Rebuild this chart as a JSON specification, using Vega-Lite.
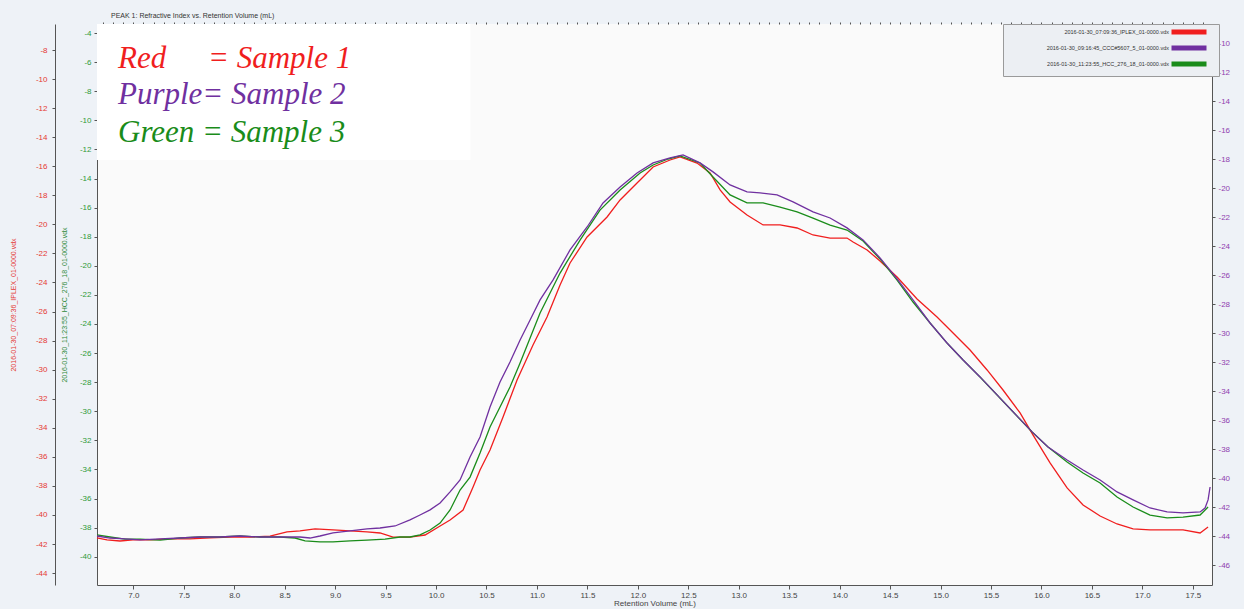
{
  "$schema": "https://vega.github.io/schema/vega-lite/v6.json",
  "width": 1115,
  "height": 561,
  "autosize": {"type": "none"},
  "padding": {"left": 97, "top": 24, "right": 32, "bottom": 24},
  "background": "#eef2f7",
  "title": {
    "text": "PEAK 1: Refractive Index vs. Retention Volume (mL)",
    "anchor": "start",
    "frame": "group",
    "dx": 14,
    "offset": 3,
    "fontSize": 7,
    "fontWeight": "normal",
    "font": "Liberation Sans",
    "color": "#333333"
  },
  "config": {
    "view": {"stroke": null, "fill": "#fafafa"},
    "axis": {
      "labelFont": "Liberation Sans",
      "titleFont": "Liberation Sans",
      "labelFontSize": 8,
      "titleFontSize": 8,
      "titleFontWeight": "normal",
      "grid": false,
      "domainColor": "#555555",
      "tickColor": "#555555",
      "tickSize": 3,
      "labelPadding": 3,
      "labelOverlap": false
    }
  },
  "datasets": {
    "curves": [
      {"run": "2016-01-30_07:09:36_IPLEX_01-0000.vdx", "volume": 6.640, "ri": -41.58},
      {"run": "2016-01-30_07:09:36_IPLEX_01-0000.vdx", "volume": 6.739, "ri": -41.72},
      {"run": "2016-01-30_07:09:36_IPLEX_01-0000.vdx", "volume": 6.868, "ri": -41.79},
      {"run": "2016-01-30_07:09:36_IPLEX_01-0000.vdx", "volume": 6.997, "ri": -41.72},
      {"run": "2016-01-30_07:09:36_IPLEX_01-0000.vdx", "volume": 7.166, "ri": -41.72},
      {"run": "2016-01-30_07:09:36_IPLEX_01-0000.vdx", "volume": 7.364, "ri": -41.65},
      {"run": "2016-01-30_07:09:36_IPLEX_01-0000.vdx", "volume": 7.562, "ri": -41.65},
      {"run": "2016-01-30_07:09:36_IPLEX_01-0000.vdx", "volume": 7.760, "ri": -41.58},
      {"run": "2016-01-30_07:09:36_IPLEX_01-0000.vdx", "volume": 7.958, "ri": -41.52},
      {"run": "2016-01-30_07:09:36_IPLEX_01-0000.vdx", "volume": 8.157, "ri": -41.52},
      {"run": "2016-01-30_07:09:36_IPLEX_01-0000.vdx", "volume": 8.355, "ri": -41.45},
      {"run": "2016-01-30_07:09:36_IPLEX_01-0000.vdx", "volume": 8.523, "ri": -41.17},
      {"run": "2016-01-30_07:09:36_IPLEX_01-0000.vdx", "volume": 8.652, "ri": -41.10},
      {"run": "2016-01-30_07:09:36_IPLEX_01-0000.vdx", "volume": 8.801, "ri": -40.96},
      {"run": "2016-01-30_07:09:36_IPLEX_01-0000.vdx", "volume": 8.979, "ri": -41.03},
      {"run": "2016-01-30_07:09:36_IPLEX_01-0000.vdx", "volume": 9.148, "ri": -41.10},
      {"run": "2016-01-30_07:09:36_IPLEX_01-0000.vdx", "volume": 9.316, "ri": -41.17},
      {"run": "2016-01-30_07:09:36_IPLEX_01-0000.vdx", "volume": 9.445, "ri": -41.24},
      {"run": "2016-01-30_07:09:36_IPLEX_01-0000.vdx", "volume": 9.574, "ri": -41.52},
      {"run": "2016-01-30_07:09:36_IPLEX_01-0000.vdx", "volume": 9.742, "ri": -41.52},
      {"run": "2016-01-30_07:09:36_IPLEX_01-0000.vdx", "volume": 9.891, "ri": -41.38},
      {"run": "2016-01-30_07:09:36_IPLEX_01-0000.vdx", "volume": 10.040, "ri": -40.76},
      {"run": "2016-01-30_07:09:36_IPLEX_01-0000.vdx", "volume": 10.139, "ri": -40.35},
      {"run": "2016-01-30_07:09:36_IPLEX_01-0000.vdx", "volume": 10.268, "ri": -39.66},
      {"run": "2016-01-30_07:09:36_IPLEX_01-0000.vdx", "volume": 10.367, "ri": -38.07},
      {"run": "2016-01-30_07:09:36_IPLEX_01-0000.vdx", "volume": 10.436, "ri": -36.90},
      {"run": "2016-01-30_07:09:36_IPLEX_01-0000.vdx", "volume": 10.535, "ri": -35.53},
      {"run": "2016-01-30_07:09:36_IPLEX_01-0000.vdx", "volume": 10.664, "ri": -33.26},
      {"run": "2016-01-30_07:09:36_IPLEX_01-0000.vdx", "volume": 10.803, "ri": -30.71},
      {"run": "2016-01-30_07:09:36_IPLEX_01-0000.vdx", "volume": 10.961, "ri": -28.30},
      {"run": "2016-01-30_07:09:36_IPLEX_01-0000.vdx", "volume": 11.100, "ri": -26.37},
      {"run": "2016-01-30_07:09:36_IPLEX_01-0000.vdx", "volume": 11.229, "ri": -24.17},
      {"run": "2016-01-30_07:09:36_IPLEX_01-0000.vdx", "volume": 11.328, "ri": -22.66},
      {"run": "2016-01-30_07:09:36_IPLEX_01-0000.vdx", "volume": 11.497, "ri": -20.87},
      {"run": "2016-01-30_07:09:36_IPLEX_01-0000.vdx", "volume": 11.695, "ri": -19.49},
      {"run": "2016-01-30_07:09:36_IPLEX_01-0000.vdx", "volume": 11.824, "ri": -18.32},
      {"run": "2016-01-30_07:09:36_IPLEX_01-0000.vdx", "volume": 11.992, "ri": -17.15},
      {"run": "2016-01-30_07:09:36_IPLEX_01-0000.vdx", "volume": 12.151, "ri": -16.05},
      {"run": "2016-01-30_07:09:36_IPLEX_01-0000.vdx", "volume": 12.319, "ri": -15.57},
      {"run": "2016-01-30_07:09:36_IPLEX_01-0000.vdx", "volume": 12.418, "ri": -15.36},
      {"run": "2016-01-30_07:09:36_IPLEX_01-0000.vdx", "volume": 12.587, "ri": -15.78},
      {"run": "2016-01-30_07:09:36_IPLEX_01-0000.vdx", "volume": 12.716, "ri": -16.46},
      {"run": "2016-01-30_07:09:36_IPLEX_01-0000.vdx", "volume": 12.815, "ri": -17.63},
      {"run": "2016-01-30_07:09:36_IPLEX_01-0000.vdx", "volume": 12.914, "ri": -18.46},
      {"run": "2016-01-30_07:09:36_IPLEX_01-0000.vdx", "volume": 13.082, "ri": -19.36},
      {"run": "2016-01-30_07:09:36_IPLEX_01-0000.vdx", "volume": 13.241, "ri": -20.04},
      {"run": "2016-01-30_07:09:36_IPLEX_01-0000.vdx", "volume": 13.409, "ri": -20.04},
      {"run": "2016-01-30_07:09:36_IPLEX_01-0000.vdx", "volume": 13.578, "ri": -20.25},
      {"run": "2016-01-30_07:09:36_IPLEX_01-0000.vdx", "volume": 13.736, "ri": -20.73},
      {"run": "2016-01-30_07:09:36_IPLEX_01-0000.vdx", "volume": 13.905, "ri": -20.94},
      {"run": "2016-01-30_07:09:36_IPLEX_01-0000.vdx", "volume": 14.073, "ri": -20.94},
      {"run": "2016-01-30_07:09:36_IPLEX_01-0000.vdx", "volume": 14.133, "ri": -21.21},
      {"run": "2016-01-30_07:09:36_IPLEX_01-0000.vdx", "volume": 14.272, "ri": -21.76},
      {"run": "2016-01-30_07:09:36_IPLEX_01-0000.vdx", "volume": 14.400, "ri": -22.52},
      {"run": "2016-01-30_07:09:36_IPLEX_01-0000.vdx", "volume": 14.569, "ri": -23.62},
      {"run": "2016-01-30_07:09:36_IPLEX_01-0000.vdx", "volume": 14.767, "ri": -25.14},
      {"run": "2016-01-30_07:09:36_IPLEX_01-0000.vdx", "volume": 14.965, "ri": -26.37},
      {"run": "2016-01-30_07:09:36_IPLEX_01-0000.vdx", "volume": 15.124, "ri": -27.48},
      {"run": "2016-01-30_07:09:36_IPLEX_01-0000.vdx", "volume": 15.292, "ri": -28.65},
      {"run": "2016-01-30_07:09:36_IPLEX_01-0000.vdx", "volume": 15.461, "ri": -30.02},
      {"run": "2016-01-30_07:09:36_IPLEX_01-0000.vdx", "volume": 15.619, "ri": -31.40},
      {"run": "2016-01-30_07:09:36_IPLEX_01-0000.vdx", "volume": 15.788, "ri": -32.98},
      {"run": "2016-01-30_07:09:36_IPLEX_01-0000.vdx", "volume": 15.917, "ri": -34.50},
      {"run": "2016-01-30_07:09:36_IPLEX_01-0000.vdx", "volume": 16.085, "ri": -36.42},
      {"run": "2016-01-30_07:09:36_IPLEX_01-0000.vdx", "volume": 16.254, "ri": -38.14},
      {"run": "2016-01-30_07:09:36_IPLEX_01-0000.vdx", "volume": 16.412, "ri": -39.31},
      {"run": "2016-01-30_07:09:36_IPLEX_01-0000.vdx", "volume": 16.581, "ri": -40.07},
      {"run": "2016-01-30_07:09:36_IPLEX_01-0000.vdx", "volume": 16.749, "ri": -40.62},
      {"run": "2016-01-30_07:09:36_IPLEX_01-0000.vdx", "volume": 16.908, "ri": -40.96},
      {"run": "2016-01-30_07:09:36_IPLEX_01-0000.vdx", "volume": 17.076, "ri": -41.03},
      {"run": "2016-01-30_07:09:36_IPLEX_01-0000.vdx", "volume": 17.245, "ri": -41.03},
      {"run": "2016-01-30_07:09:36_IPLEX_01-0000.vdx", "volume": 17.403, "ri": -41.03},
      {"run": "2016-01-30_07:09:36_IPLEX_01-0000.vdx", "volume": 17.572, "ri": -41.24},
      {"run": "2016-01-30_07:09:36_IPLEX_01-0000.vdx", "volume": 17.651, "ri": -40.83},

      {"run": "2016-01-30_09:16:45_CCC#5607_5_01-0000.vdx", "volume": 6.640, "ri": -43.97},
      {"run": "2016-01-30_09:16:45_CCC#5607_5_01-0000.vdx", "volume": 6.769, "ri": -44.11},
      {"run": "2016-01-30_09:16:45_CCC#5607_5_01-0000.vdx", "volume": 6.918, "ri": -44.17},
      {"run": "2016-01-30_09:16:45_CCC#5607_5_01-0000.vdx", "volume": 7.066, "ri": -44.24},
      {"run": "2016-01-30_09:16:45_CCC#5607_5_01-0000.vdx", "volume": 7.265, "ri": -44.17},
      {"run": "2016-01-30_09:16:45_CCC#5607_5_01-0000.vdx", "volume": 7.463, "ri": -44.11},
      {"run": "2016-01-30_09:16:45_CCC#5607_5_01-0000.vdx", "volume": 7.661, "ri": -44.04},
      {"run": "2016-01-30_09:16:45_CCC#5607_5_01-0000.vdx", "volume": 7.859, "ri": -44.04},
      {"run": "2016-01-30_09:16:45_CCC#5607_5_01-0000.vdx", "volume": 8.057, "ri": -43.97},
      {"run": "2016-01-30_09:16:45_CCC#5607_5_01-0000.vdx", "volume": 8.256, "ri": -44.04},
      {"run": "2016-01-30_09:16:45_CCC#5607_5_01-0000.vdx", "volume": 8.454, "ri": -44.04},
      {"run": "2016-01-30_09:16:45_CCC#5607_5_01-0000.vdx", "volume": 8.652, "ri": -44.04},
      {"run": "2016-01-30_09:16:45_CCC#5607_5_01-0000.vdx", "volume": 8.751, "ri": -44.11},
      {"run": "2016-01-30_09:16:45_CCC#5607_5_01-0000.vdx", "volume": 8.850, "ri": -43.97},
      {"run": "2016-01-30_09:16:45_CCC#5607_5_01-0000.vdx", "volume": 8.979, "ri": -43.76},
      {"run": "2016-01-30_09:16:45_CCC#5607_5_01-0000.vdx", "volume": 9.148, "ri": -43.62},
      {"run": "2016-01-30_09:16:45_CCC#5607_5_01-0000.vdx", "volume": 9.316, "ri": -43.48},
      {"run": "2016-01-30_09:16:45_CCC#5607_5_01-0000.vdx", "volume": 9.445, "ri": -43.42},
      {"run": "2016-01-30_09:16:45_CCC#5607_5_01-0000.vdx", "volume": 9.594, "ri": -43.28},
      {"run": "2016-01-30_09:16:45_CCC#5607_5_01-0000.vdx", "volume": 9.742, "ri": -42.86},
      {"run": "2016-01-30_09:16:45_CCC#5607_5_01-0000.vdx", "volume": 9.841, "ri": -42.52},
      {"run": "2016-01-30_09:16:45_CCC#5607_5_01-0000.vdx", "volume": 9.941, "ri": -42.17},
      {"run": "2016-01-30_09:16:45_CCC#5607_5_01-0000.vdx", "volume": 10.040, "ri": -41.69},
      {"run": "2016-01-30_09:16:45_CCC#5607_5_01-0000.vdx", "volume": 10.139, "ri": -40.93},
      {"run": "2016-01-30_09:16:45_CCC#5607_5_01-0000.vdx", "volume": 10.238, "ri": -40.11},
      {"run": "2016-01-30_09:16:45_CCC#5607_5_01-0000.vdx", "volume": 10.337, "ri": -38.52},
      {"run": "2016-01-30_09:16:45_CCC#5607_5_01-0000.vdx", "volume": 10.436, "ri": -37.14},
      {"run": "2016-01-30_09:16:45_CCC#5607_5_01-0000.vdx", "volume": 10.535, "ri": -35.07},
      {"run": "2016-01-30_09:16:45_CCC#5607_5_01-0000.vdx", "volume": 10.634, "ri": -33.35},
      {"run": "2016-01-30_09:16:45_CCC#5607_5_01-0000.vdx", "volume": 10.733, "ri": -31.97},
      {"run": "2016-01-30_09:16:45_CCC#5607_5_01-0000.vdx", "volume": 10.833, "ri": -30.45},
      {"run": "2016-01-30_09:16:45_CCC#5607_5_01-0000.vdx", "volume": 10.932, "ri": -29.07},
      {"run": "2016-01-30_09:16:45_CCC#5607_5_01-0000.vdx", "volume": 11.031, "ri": -27.69},
      {"run": "2016-01-30_09:16:45_CCC#5607_5_01-0000.vdx", "volume": 11.160, "ri": -26.31},
      {"run": "2016-01-30_09:16:45_CCC#5607_5_01-0000.vdx", "volume": 11.328, "ri": -24.24},
      {"run": "2016-01-30_09:16:45_CCC#5607_5_01-0000.vdx", "volume": 11.497, "ri": -22.66},
      {"run": "2016-01-30_09:16:45_CCC#5607_5_01-0000.vdx", "volume": 11.655, "ri": -21.00},
      {"run": "2016-01-30_09:16:45_CCC#5607_5_01-0000.vdx", "volume": 11.824, "ri": -19.90},
      {"run": "2016-01-30_09:16:45_CCC#5607_5_01-0000.vdx", "volume": 11.992, "ri": -18.93},
      {"run": "2016-01-30_09:16:45_CCC#5607_5_01-0000.vdx", "volume": 12.151, "ri": -18.24},
      {"run": "2016-01-30_09:16:45_CCC#5607_5_01-0000.vdx", "volume": 12.319, "ri": -17.90},
      {"run": "2016-01-30_09:16:45_CCC#5607_5_01-0000.vdx", "volume": 12.448, "ri": -17.69},
      {"run": "2016-01-30_09:16:45_CCC#5607_5_01-0000.vdx", "volume": 12.616, "ri": -18.24},
      {"run": "2016-01-30_09:16:45_CCC#5607_5_01-0000.vdx", "volume": 12.745, "ri": -18.86},
      {"run": "2016-01-30_09:16:45_CCC#5607_5_01-0000.vdx", "volume": 12.914, "ri": -19.76},
      {"run": "2016-01-30_09:16:45_CCC#5607_5_01-0000.vdx", "volume": 13.082, "ri": -20.24},
      {"run": "2016-01-30_09:16:45_CCC#5607_5_01-0000.vdx", "volume": 13.211, "ri": -20.31},
      {"run": "2016-01-30_09:16:45_CCC#5607_5_01-0000.vdx", "volume": 13.380, "ri": -20.45},
      {"run": "2016-01-30_09:16:45_CCC#5607_5_01-0000.vdx", "volume": 13.538, "ri": -20.93},
      {"run": "2016-01-30_09:16:45_CCC#5607_5_01-0000.vdx", "volume": 13.736, "ri": -21.62},
      {"run": "2016-01-30_09:16:45_CCC#5607_5_01-0000.vdx", "volume": 13.905, "ri": -22.04},
      {"run": "2016-01-30_09:16:45_CCC#5607_5_01-0000.vdx", "volume": 14.073, "ri": -22.72},
      {"run": "2016-01-30_09:16:45_CCC#5607_5_01-0000.vdx", "volume": 14.232, "ri": -23.55},
      {"run": "2016-01-30_09:16:45_CCC#5607_5_01-0000.vdx", "volume": 14.400, "ri": -24.79},
      {"run": "2016-01-30_09:16:45_CCC#5607_5_01-0000.vdx", "volume": 14.569, "ri": -26.24},
      {"run": "2016-01-30_09:16:45_CCC#5607_5_01-0000.vdx", "volume": 14.727, "ri": -27.69},
      {"run": "2016-01-30_09:16:45_CCC#5607_5_01-0000.vdx", "volume": 14.896, "ri": -29.28},
      {"run": "2016-01-30_09:16:45_CCC#5607_5_01-0000.vdx", "volume": 15.064, "ri": -30.66},
      {"run": "2016-01-30_09:16:45_CCC#5607_5_01-0000.vdx", "volume": 15.223, "ri": -31.83},
      {"run": "2016-01-30_09:16:45_CCC#5607_5_01-0000.vdx", "volume": 15.391, "ri": -33.00},
      {"run": "2016-01-30_09:16:45_CCC#5607_5_01-0000.vdx", "volume": 15.560, "ri": -34.24},
      {"run": "2016-01-30_09:16:45_CCC#5607_5_01-0000.vdx", "volume": 15.738, "ri": -35.55},
      {"run": "2016-01-30_09:16:45_CCC#5607_5_01-0000.vdx", "volume": 15.907, "ri": -36.79},
      {"run": "2016-01-30_09:16:45_CCC#5607_5_01-0000.vdx", "volume": 16.065, "ri": -37.83},
      {"run": "2016-01-30_09:16:45_CCC#5607_5_01-0000.vdx", "volume": 16.254, "ri": -38.73},
      {"run": "2016-01-30_09:16:45_CCC#5607_5_01-0000.vdx", "volume": 16.412, "ri": -39.42},
      {"run": "2016-01-30_09:16:45_CCC#5607_5_01-0000.vdx", "volume": 16.581, "ri": -40.11},
      {"run": "2016-01-30_09:16:45_CCC#5607_5_01-0000.vdx", "volume": 16.749, "ri": -40.93},
      {"run": "2016-01-30_09:16:45_CCC#5607_5_01-0000.vdx", "volume": 16.908, "ri": -41.48},
      {"run": "2016-01-30_09:16:45_CCC#5607_5_01-0000.vdx", "volume": 17.076, "ri": -42.04},
      {"run": "2016-01-30_09:16:45_CCC#5607_5_01-0000.vdx", "volume": 17.245, "ri": -42.31},
      {"run": "2016-01-30_09:16:45_CCC#5607_5_01-0000.vdx", "volume": 17.403, "ri": -42.38},
      {"run": "2016-01-30_09:16:45_CCC#5607_5_01-0000.vdx", "volume": 17.572, "ri": -42.31},
      {"run": "2016-01-30_09:16:45_CCC#5607_5_01-0000.vdx", "volume": 17.621, "ri": -42.04},
      {"run": "2016-01-30_09:16:45_CCC#5607_5_01-0000.vdx", "volume": 17.651, "ri": -41.48},
      {"run": "2016-01-30_09:16:45_CCC#5607_5_01-0000.vdx", "volume": 17.671, "ri": -40.59},

      {"run": "2016-01-30_11:23:55_HCC_276_18_01-0000.vdx", "volume": 6.640, "ri": -38.50},
      {"run": "2016-01-30_11:23:55_HCC_276_18_01-0000.vdx", "volume": 6.769, "ri": -38.64},
      {"run": "2016-01-30_11:23:55_HCC_276_18_01-0000.vdx", "volume": 6.918, "ri": -38.78},
      {"run": "2016-01-30_11:23:55_HCC_276_18_01-0000.vdx", "volume": 7.066, "ri": -38.78},
      {"run": "2016-01-30_11:23:55_HCC_276_18_01-0000.vdx", "volume": 7.265, "ri": -38.85},
      {"run": "2016-01-30_11:23:55_HCC_276_18_01-0000.vdx", "volume": 7.463, "ri": -38.71},
      {"run": "2016-01-30_11:23:55_HCC_276_18_01-0000.vdx", "volume": 7.661, "ri": -38.64},
      {"run": "2016-01-30_11:23:55_HCC_276_18_01-0000.vdx", "volume": 7.859, "ri": -38.64},
      {"run": "2016-01-30_11:23:55_HCC_276_18_01-0000.vdx", "volume": 8.057, "ri": -38.57},
      {"run": "2016-01-30_11:23:55_HCC_276_18_01-0000.vdx", "volume": 8.256, "ri": -38.64},
      {"run": "2016-01-30_11:23:55_HCC_276_18_01-0000.vdx", "volume": 8.454, "ri": -38.64},
      {"run": "2016-01-30_11:23:55_HCC_276_18_01-0000.vdx", "volume": 8.603, "ri": -38.71},
      {"run": "2016-01-30_11:23:55_HCC_276_18_01-0000.vdx", "volume": 8.702, "ri": -38.91},
      {"run": "2016-01-30_11:23:55_HCC_276_18_01-0000.vdx", "volume": 8.850, "ri": -38.98},
      {"run": "2016-01-30_11:23:55_HCC_276_18_01-0000.vdx", "volume": 8.979, "ri": -38.98},
      {"run": "2016-01-30_11:23:55_HCC_276_18_01-0000.vdx", "volume": 9.148, "ri": -38.91},
      {"run": "2016-01-30_11:23:55_HCC_276_18_01-0000.vdx", "volume": 9.316, "ri": -38.85},
      {"run": "2016-01-30_11:23:55_HCC_276_18_01-0000.vdx", "volume": 9.495, "ri": -38.78},
      {"run": "2016-01-30_11:23:55_HCC_276_18_01-0000.vdx", "volume": 9.643, "ri": -38.64},
      {"run": "2016-01-30_11:23:55_HCC_276_18_01-0000.vdx", "volume": 9.742, "ri": -38.64},
      {"run": "2016-01-30_11:23:55_HCC_276_18_01-0000.vdx", "volume": 9.841, "ri": -38.50},
      {"run": "2016-01-30_11:23:55_HCC_276_18_01-0000.vdx", "volume": 9.941, "ri": -38.16},
      {"run": "2016-01-30_11:23:55_HCC_276_18_01-0000.vdx", "volume": 10.040, "ri": -37.68},
      {"run": "2016-01-30_11:23:55_HCC_276_18_01-0000.vdx", "volume": 10.139, "ri": -36.78},
      {"run": "2016-01-30_11:23:55_HCC_276_18_01-0000.vdx", "volume": 10.238, "ri": -35.41},
      {"run": "2016-01-30_11:23:55_HCC_276_18_01-0000.vdx", "volume": 10.337, "ri": -34.52},
      {"run": "2016-01-30_11:23:55_HCC_276_18_01-0000.vdx", "volume": 10.436, "ri": -32.87},
      {"run": "2016-01-30_11:23:55_HCC_276_18_01-0000.vdx", "volume": 10.535, "ri": -31.08},
      {"run": "2016-01-30_11:23:55_HCC_276_18_01-0000.vdx", "volume": 10.634, "ri": -29.71},
      {"run": "2016-01-30_11:23:55_HCC_276_18_01-0000.vdx", "volume": 10.733, "ri": -28.33},
      {"run": "2016-01-30_11:23:55_HCC_276_18_01-0000.vdx", "volume": 10.833, "ri": -26.68},
      {"run": "2016-01-30_11:23:55_HCC_276_18_01-0000.vdx", "volume": 11.031, "ri": -23.24},
      {"run": "2016-01-30_11:23:55_HCC_276_18_01-0000.vdx", "volume": 11.229, "ri": -20.50},
      {"run": "2016-01-30_11:23:55_HCC_276_18_01-0000.vdx", "volume": 11.427, "ri": -18.23},
      {"run": "2016-01-30_11:23:55_HCC_276_18_01-0000.vdx", "volume": 11.625, "ri": -16.17},
      {"run": "2016-01-30_11:23:55_HCC_276_18_01-0000.vdx", "volume": 11.824, "ri": -14.79},
      {"run": "2016-01-30_11:23:55_HCC_276_18_01-0000.vdx", "volume": 12.022, "ri": -13.62},
      {"run": "2016-01-30_11:23:55_HCC_276_18_01-0000.vdx", "volume": 12.151, "ri": -13.07},
      {"run": "2016-01-30_11:23:55_HCC_276_18_01-0000.vdx", "volume": 12.299, "ri": -12.66},
      {"run": "2016-01-30_11:23:55_HCC_276_18_01-0000.vdx", "volume": 12.418, "ri": -12.45},
      {"run": "2016-01-30_11:23:55_HCC_276_18_01-0000.vdx", "volume": 12.616, "ri": -12.93},
      {"run": "2016-01-30_11:23:55_HCC_276_18_01-0000.vdx", "volume": 12.745, "ri": -13.90},
      {"run": "2016-01-30_11:23:55_HCC_276_18_01-0000.vdx", "volume": 12.914, "ri": -15.13},
      {"run": "2016-01-30_11:23:55_HCC_276_18_01-0000.vdx", "volume": 13.082, "ri": -15.68},
      {"run": "2016-01-30_11:23:55_HCC_276_18_01-0000.vdx", "volume": 13.241, "ri": -15.68},
      {"run": "2016-01-30_11:23:55_HCC_276_18_01-0000.vdx", "volume": 13.409, "ri": -15.96},
      {"run": "2016-01-30_11:23:55_HCC_276_18_01-0000.vdx", "volume": 13.578, "ri": -16.30},
      {"run": "2016-01-30_11:23:55_HCC_276_18_01-0000.vdx", "volume": 13.736, "ri": -16.72},
      {"run": "2016-01-30_11:23:55_HCC_276_18_01-0000.vdx", "volume": 13.905, "ri": -17.20},
      {"run": "2016-01-30_11:23:55_HCC_276_18_01-0000.vdx", "volume": 14.073, "ri": -17.54},
      {"run": "2016-01-30_11:23:55_HCC_276_18_01-0000.vdx", "volume": 14.232, "ri": -18.30},
      {"run": "2016-01-30_11:23:55_HCC_276_18_01-0000.vdx", "volume": 14.400, "ri": -19.53},
      {"run": "2016-01-30_11:23:55_HCC_276_18_01-0000.vdx", "volume": 14.569, "ri": -20.98},
      {"run": "2016-01-30_11:23:55_HCC_276_18_01-0000.vdx", "volume": 14.727, "ri": -22.49},
      {"run": "2016-01-30_11:23:55_HCC_276_18_01-0000.vdx", "volume": 14.896, "ri": -23.93},
      {"run": "2016-01-30_11:23:55_HCC_276_18_01-0000.vdx", "volume": 15.064, "ri": -25.31},
      {"run": "2016-01-30_11:23:55_HCC_276_18_01-0000.vdx", "volume": 15.223, "ri": -26.47},
      {"run": "2016-01-30_11:23:55_HCC_276_18_01-0000.vdx", "volume": 15.391, "ri": -27.64},
      {"run": "2016-01-30_11:23:55_HCC_276_18_01-0000.vdx", "volume": 15.560, "ri": -28.88},
      {"run": "2016-01-30_11:23:55_HCC_276_18_01-0000.vdx", "volume": 15.738, "ri": -30.19},
      {"run": "2016-01-30_11:23:55_HCC_276_18_01-0000.vdx", "volume": 15.907, "ri": -31.42},
      {"run": "2016-01-30_11:23:55_HCC_276_18_01-0000.vdx", "volume": 16.065, "ri": -32.45},
      {"run": "2016-01-30_11:23:55_HCC_276_18_01-0000.vdx", "volume": 16.254, "ri": -33.48},
      {"run": "2016-01-30_11:23:55_HCC_276_18_01-0000.vdx", "volume": 16.412, "ri": -34.24},
      {"run": "2016-01-30_11:23:55_HCC_276_18_01-0000.vdx", "volume": 16.581, "ri": -34.93},
      {"run": "2016-01-30_11:23:55_HCC_276_18_01-0000.vdx", "volume": 16.749, "ri": -35.89},
      {"run": "2016-01-30_11:23:55_HCC_276_18_01-0000.vdx", "volume": 16.908, "ri": -36.58},
      {"run": "2016-01-30_11:23:55_HCC_276_18_01-0000.vdx", "volume": 17.076, "ri": -37.13},
      {"run": "2016-01-30_11:23:55_HCC_276_18_01-0000.vdx", "volume": 17.245, "ri": -37.33},
      {"run": "2016-01-30_11:23:55_HCC_276_18_01-0000.vdx", "volume": 17.403, "ri": -37.27},
      {"run": "2016-01-30_11:23:55_HCC_276_18_01-0000.vdx", "volume": 17.572, "ri": -37.13},
      {"run": "2016-01-30_11:23:55_HCC_276_18_01-0000.vdx", "volume": 17.651, "ri": -36.58}
    ],
    "notes": [
      {"run": "2016-01-30_07:09:36_IPLEX_01-0000.vdx", "label": "Red", "x": 6.848, "y": -6.41},
      {"run": "2016-01-30_07:09:36_IPLEX_01-0000.vdx", "label": "= Sample 1", "x": 7.740, "y": -6.41},
      {"run": "2016-01-30_09:16:45_CCC#5607_5_01-0000.vdx", "label": "Purple= Sample 2", "x": 6.848, "y": -8.88},
      {"run": "2016-01-30_11:23:55_HCC_276_18_01-0000.vdx", "label": "Green = Sample 3", "x": 6.848, "y": -11.49}
    ]
  },
  "layer": [
    {
      "data": {"name": "curves"},
      "transform": [{"filter": "datum.run === '2016-01-30_07:09:36_IPLEX_01-0000.vdx'"}],
      "mark": {"type": "line", "strokeWidth": 1.3},
      "encoding": {
        "x": {
          "field": "volume", "type": "quantitative",
          "scale": {"domain": [6.64, 17.69], "nice": false, "zero": false},
          "axis": {
            "values": [7, 7.5, 8, 8.5, 9, 9.5, 10, 10.5, 11, 11.5, 12, 12.5, 13, 13.5, 14, 14.5, 15, 15.5, 16, 16.5, 17, 17.5],
            "format": ".1f",
            "title": "Retention Volume (mL)",
            "titlePadding": 0,
            "labelColor": "#444444",
            "titleColor": "#444444",
            "labelPadding": 2,
            "tickSize": 4
          }
        },
        "y": {
          "field": "ri", "type": "quantitative",
          "scale": {"domain": [-44.82, -6.21], "nice": false, "zero": false},
          "axis": {
            "orient": "left",
            "offset": 42,
            "values": [-44, -42, -40, -38, -36, -34, -32, -30, -28, -26, -24, -22, -20, -18, -16, -14, -12, -10, -8],
            "tickCount": 40,
            "labelExpr": "'' + datum.value",
            "labelColor": "#e53935",
            "labelPadding": 5,
            "title": "2016-01-30_07:09:36_IPLEX_01-0000.vdx",
            "titleColor": "#e53935",
            "titleFontSize": 7,
            "titlePadding": 19
          }
        },
        "color": {
          "field": "run", "type": "nominal",
          "scale": {
            "domain": ["2016-01-30_07:09:36_IPLEX_01-0000.vdx", "2016-01-30_09:16:45_CCC#5607_5_01-0000.vdx", "2016-01-30_11:23:55_HCC_276_18_01-0000.vdx"],
            "range": ["#f01e1e", "#7030a0", "#1a8c1a"]
          },
          "legend": {
            "orient": "none",
            "legendX": 906,
            "legendY": 0,
            "title": null,
            "labelFont": "Liberation Sans",
            "labelFontSize": 5.5,
            "labelColor": "#333333",
            "labelAlign": "right",
            "symbolType": "M-5,0H5",
            "symbolSize": 49,
            "symbolStrokeWidth": 5,
            "symbolOffset": 178,
            "labelOffset": -26,
            "rowPadding": -17,
            "padding": 2,
            "fillColor": "#eceff3",
            "strokeColor": "#9a9a9a"
          }
        }
      }
    },
    {
      "layer": [
        {
          "data": {"values": [{"x": 6.64, "x2": 10.34, "y": -3.38, "y2": -12.73}]},
          "mark": {"type": "rect", "fill": "#ffffff"},
          "encoding": {
            "x": {
              "field": "x", "type": "quantitative",
              "scale": {"domain": [6.64, 17.69], "nice": false, "zero": false},
              "axis": {"tickCount": 110, "labels": false, "domain": false, "tickSize": 2, "title": null}
            },
            "x2": {"field": "x2"},
            "y": {"field": "y", "type": "quantitative", "scale": {"domain": [-41.94, -3.38], "nice": false, "zero": false}},
            "y2": {"field": "y2"}
          }
        },
        {
          "data": {"name": "curves"},
          "transform": [{"filter": "datum.run === '2016-01-30_11:23:55_HCC_276_18_01-0000.vdx'"}],
          "mark": {"type": "line", "strokeWidth": 1.3},
          "encoding": {
            "x": {
              "field": "volume", "type": "quantitative",
              "scale": {"domain": [6.64, 17.69], "nice": false, "zero": false},
              "axis": {"tickCount": 110, "labels": false, "domain": false, "tickSize": 2, "title": null}
            },
            "y": {
              "field": "ri", "type": "quantitative",
              "scale": {"domain": [-41.94, -3.38], "nice": false, "zero": false},
              "axis": {
                "orient": "left",
                "values": [-40, -38, -36, -34, -32, -30, -28, -26, -24, -22, -20, -18, -16, -14, -12, -10, -8, -6, -4],
                "tickCount": 40,
                "labelExpr": "'' + datum.value",
                "labelColor": "#2e9a3a",
                "title": "2016-01-30_11:23:55_HCC_276_18_01-0000.vdx",
                "titleColor": "#2e8a3a",
                "titleFontSize": 7,
                "titlePadding": 12
              }
            },
            "color": {"field": "run", "type": "nominal"}
          }
        },
        {
          "data": {"name": "notes"},
          "mark": {"type": "text", "font": "Liberation Serif", "fontStyle": "italic", "fontSize": 31, "align": "left", "baseline": "alphabetic"},
          "encoding": {
            "x": {
              "field": "x", "type": "quantitative",
              "scale": {"domain": [6.64, 17.69], "nice": false, "zero": false},
              "axis": {"tickCount": 110, "labels": false, "domain": false, "tickSize": 2, "title": null}
            },
            "y": {"field": "y", "type": "quantitative", "scale": {"domain": [-41.94, -3.38], "nice": false, "zero": false}},
            "text": {"field": "label"},
            "color": {"field": "run", "type": "nominal"}
          }
        }
      ]
    },
    {
      "data": {"name": "curves"},
      "transform": [{"filter": "datum.run === '2016-01-30_09:16:45_CCC#5607_5_01-0000.vdx'"}],
      "mark": {"type": "line", "strokeWidth": 1.3},
      "encoding": {
        "x": {"field": "volume", "type": "quantitative", "scale": {"domain": [6.64, 17.69], "nice": false, "zero": false}, "axis": null},
        "y": {
          "field": "ri", "type": "quantitative",
          "scale": {"domain": [-47.35, -8.66], "nice": false, "zero": false},
          "axis": {
            "orient": "right",
            "values": [-46, -44, -42, -40, -38, -36, -34, -32, -30, -28, -26, -24, -22, -20, -18, -16, -14, -12, -10],
            "tickCount": 40,
            "labelExpr": "'' + datum.value",
            "labelColor": "#9040b0",
            "title": null
          }
        },
        "color": {"field": "run", "type": "nominal"}
      }
    }
  ],
  "resolve": {"scale": {"y": "independent"}, "axis": {"x": "independent"}}
}
